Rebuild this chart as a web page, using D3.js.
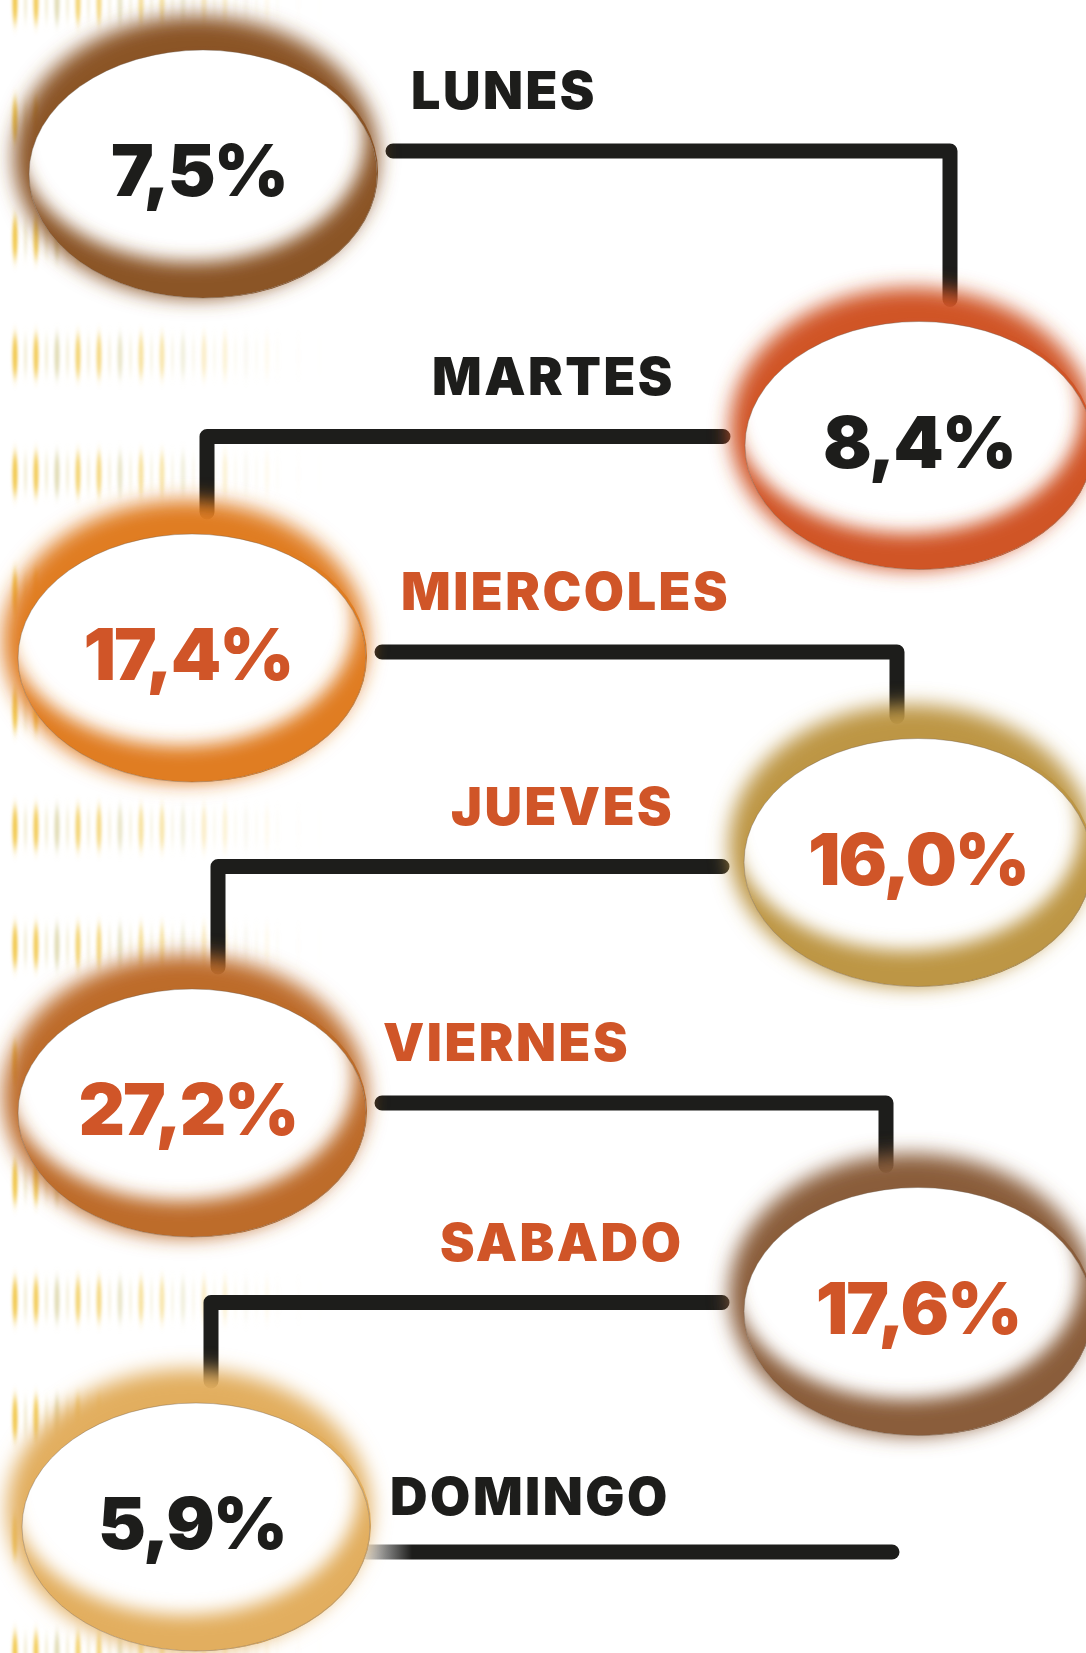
<!DOCTYPE html>
<html>
<head>
<meta charset="utf-8">
<script src="https://cdn.jsdelivr.net/npm/d3@7"></script>
<style>
  html, body { margin: 0; padding: 0; background: #fff; }
  svg { display: block; }
</style>
</head>
<body>
<div id="chart"></div>
<script>
'use strict';

// Data: share of the week per day
var days = ["LUNES", "MARTES", "MIERCOLES", "JUEVES", "VIERNES", "SABADO", "DOMINGO"];
var shares = [7.5, 8.4, 17.4, 16.0, 27.2, 17.6, 5.9];
var ringColors = ["#8b5426", "#d05528", "#e07d22", "#bd9645", "#bd6c2a", "#8a5d3b", "#e2ae5e"];
var accentDays = ["MIERCOLES", "JUEVES", "VIERNES", "SABADO"];

// Layout tweaks (not data)
var rowNudge = [0, 46, 33, 12, 37, 10, 0];
var colNudge = [8, 1, -3, 0, -3, 0, 1];
var lineNudge = [-15, -1, 2, 12, -2, -1, 33];
var bendShift = [32, 12, -21, 23, -32, 16];
var labelX = [411, 432, 401, 451, 383, 440, 390];

var width = 1086, height = 1653;
var rx = 175, ry = 132;
var ink = "#1d1d1b", accent = "#d05528";

var fmt = function(v){ return d3.format(".1f")(v).replace(".", ",") + "%" };

var y = d3.scalePoint().domain(days).range([166, 1519]);
var x = d3.scalePoint().domain(["left", "right"]).range([195, 918]);

var rows = days.map(function(d, i){
  var side = i % 2 ? "right" : "left"
  return {
    day: d,
    value: shares[i],
    color: ringColors[i],
    side: side,
    cx: x(side) + colNudge[i],
    cy: y(d) + rowNudge[i],
    i: i
  }
});

var svg = d3.select("#chart").append("svg")
  .attr("width", width)
  .attr("height", height)

var defs = svg.append("defs")

defs.append("filter").attr("id", "glow")
  .attr("x", "-30%").attr("y", "-30%").attr("width", "160%").attr("height", "160%")
  .append("feGaussianBlur").attr("stdDeviation", 10)

defs.append("filter").attr("id", "soft")
  .attr("x", "-30%").attr("y", "-30%").attr("width", "160%").attr("height", "160%")
  .append("feGaussianBlur").attr("stdDeviation", 9)

defs.append("filter").attr("id", "dash")
  .attr("x", "-200%").attr("y", "-50%").attr("width", "500%").attr("height", "200%")
  .append("feGaussianBlur").attr("stdDeviation", "1.8 6")

var lg = defs.append("linearGradient").attr("id", "fadeLine")
  .attr("gradientUnits", "userSpaceOnUse")
  .attr("x1", 365).attr("x2", 412).attr("y1", 0).attr("y2", 0)
lg.append("stop").attr("offset", 0).attr("stop-color", "#d8d8d8")
lg.append("stop").attr("offset", 1).attr("stop-color", ink)

// Background: vertical yellow strokes on the left edge
var bg = svg.append("g").attr("filter", "url(#dash)")
var dashCols = d3.range(0, 15), dashRows = d3.range(0, 15)
dashRows.forEach(function(r){
  bg.selectAll(null).data(dashCols).enter().append("ellipse")
    .attr("cx", function(c){ return 15 + c * 21 })
    .attr("cy", 2 + r * 118)
    .attr("rx", 2.6)
    .attr("ry", 22)
    .attr("fill", function(c){ return c % 3 === 2 ? "#d9d2a0" : "#efc23a" })
    .attr("opacity", function(c){ return Math.max(0, 0.9 - c * 0.07) })
  bg.selectAll(null).data(dashCols).enter().append("ellipse")
    .attr("cx", function(c){ return 25.5 + c * 21 })
    .attr("cy", 2 + r * 118)
    .attr("rx", 1.5)
    .attr("ry", 20)
    .attr("fill", "#e8dca8")
    .attr("opacity", function(c){ return Math.max(0, 0.5 - c * 0.035) })
})

// Connectors
var lines = svg.append("g")
  .attr("fill", "none")
  .attr("stroke", ink)
  .attr("stroke-width", 15)
  .attr("stroke-linecap", "round")
  .attr("stroke-linejoin", "round")

function connectorY(r){ return r.cy + lineNudge[r.i] }

rows.slice(0, -1).forEach(function(r, k){
  var next = rows[k + 1]
  var ly = connectorY(r)
  var x0 = r.side === "left" ? r.cx + rx + 15 : r.cx - rx - 21
  var bx = next.cx + bendShift[k] - colNudge[k + 1]
  var path = d3.path()
  path.moveTo(x0, ly)
  path.lineTo(bx, ly)
  path.lineTo(bx, next.cy - ry - 6)
  lines.append("path").attr("d", path.toString())
})

var last = rows[rows.length - 1]
lines.append("line")
  .attr("x1", last.cx + rx - 4).attr("x2", 892)
  .attr("y1", connectorY(last)).attr("y2", connectorY(last))
  .attr("stroke", "url(#fadeLine)")

// Bubbles
var bubbles = svg.selectAll("g.bubble").data(rows).enter().append("g")
  .attr("class", "bubble")

bubbles.each(function(d){
  var g = d3.select(this)
  var wcy = d.cy + 8, wry = ry - 8

  defs.append("clipPath").attr("id", "clip" + d.i)
    .append("ellipse").attr("cx", d.cx).attr("cy", wcy).attr("rx", rx - 1).attr("ry", wry)

  // soft halo (top-left side)
  g.append("ellipse")
    .attr("cx", d.cx - 7).attr("cy", d.cy - 9)
    .attr("rx", rx + 7).attr("ry", ry + 9)
    .attr("fill", d.color)
    .attr("filter", "url(#glow)")

  // crisp ring edge (bottom-right side)
  g.append("ellipse")
    .attr("cx", d.cx + 4).attr("cy", d.cy + 6)
    .attr("rx", rx - 4).attr("ry", ry - 6)
    .attr("fill", d.color)

  // white face
  g.append("ellipse")
    .attr("cx", d.cx).attr("cy", wcy)
    .attr("rx", rx - 1).attr("ry", wry)
    .attr("fill", "#fff")

  // inner shade toward the bottom-right
  var hx = d.cx - 12, hy = wcy - 36
  var shade = "M" + (d.cx - 400) + "," + (d.cy - 400) + "h800v800h-800z" +
    "M" + (hx - rx + 1) + "," + hy +
    "a" + (rx - 1) + "," + wry + " 0 1,0 " + (2 * (rx - 1)) + ",0" +
    "a" + (rx - 1) + "," + wry + " 0 1,0 " + (-2 * (rx - 1)) + ",0z"
  g.append("g").attr("clip-path", "url(#clip" + d.i + ")")
    .append("path")
    .attr("d", shade)
    .attr("fill-rule", "evenodd")
    .attr("fill", d.color)
    .attr("filter", "url(#soft)")

  g.append("ellipse")
    .attr("cx", d.cx).attr("cy", wcy)
    .attr("rx", rx - 1).attr("ry", wry)
    .attr("fill", "none")
    .attr("stroke", "#6b5a4a")
    .attr("stroke-opacity", 0.55)
    .attr("stroke-width", 0.7)

  g.append("text")
    .attr("x", d.cx - (d.side === "left" ? 4 : 0))
    .attr("y", d.cy + 30)
    .attr("text-anchor", "middle")
    .attr("font-family", "Inter, 'Open Sans', sans-serif")
    .attr("font-weight", 900)
    .attr("font-size", 72)
    .attr("letter-spacing", -2)
    .attr("fill", accentDays.indexOf(d.day) >= 0 ? accent : ink)
    .text(fmt(d.value))
})

// Day labels
svg.append("g").selectAll("text").data(rows).enter().append("text")
  .attr("x", function(d){ return labelX[d.i] })
  .attr("y", function(d){ return connectorY(d) - (d.i === 6 ? 37 : 42) })
  .attr("font-family", "Inter, 'Open Sans', sans-serif")
  .attr("font-weight", 900)
  .attr("font-size", 52)
  .attr("letter-spacing", 2.5)
  .attr("fill", function(d){ return accentDays.indexOf(d.day) >= 0 ? accent : ink })
  .text(function(d){ return d.day })
</script>
</body>
</html>
